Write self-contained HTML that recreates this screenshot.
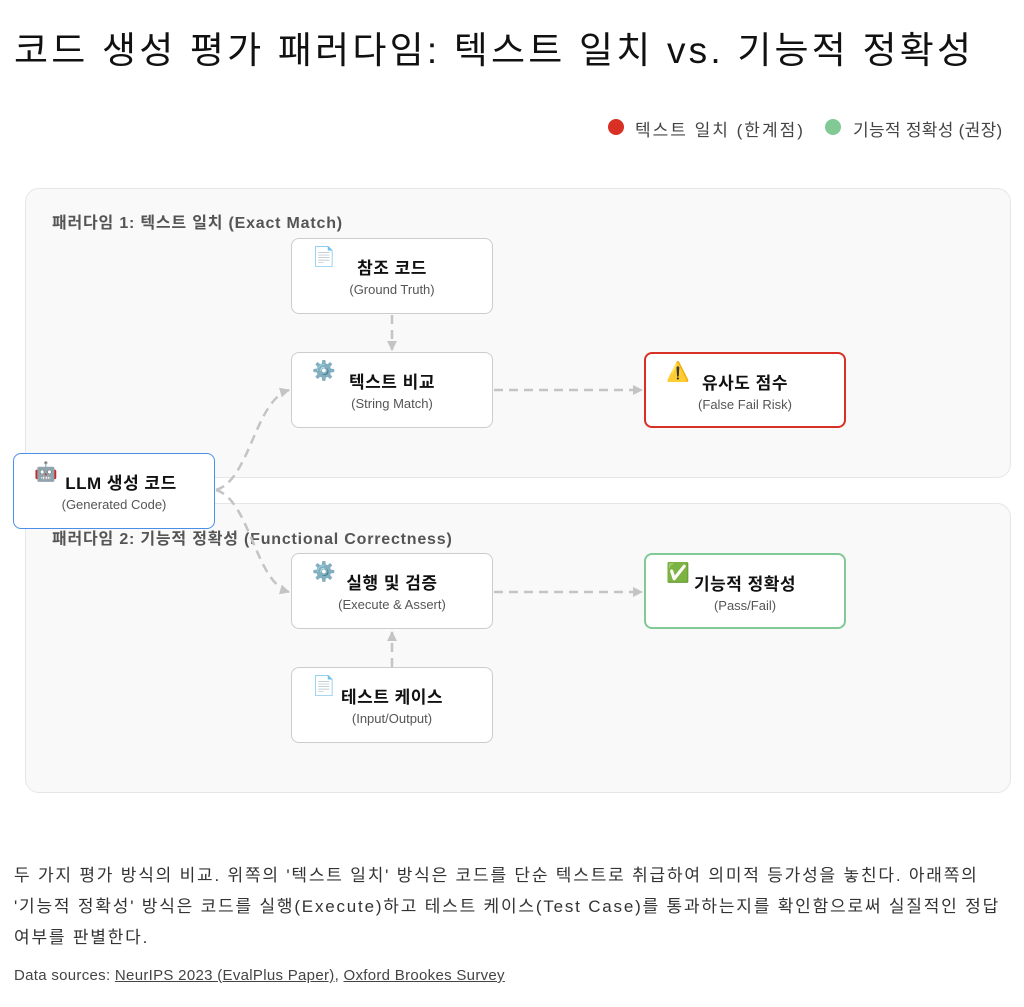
<!DOCTYPE html>
<html><head><meta charset="utf-8"><style>
*{margin:0;padding:0;box-sizing:border-box}
body{width:1024px;height:1007px;background:#fff;position:relative;overflow:hidden;font-family:"Liberation Sans","Noto Sans CJK KR",sans-serif;color:#222}
.abs{position:absolute}
.panel{position:absolute;left:25px;width:986px;height:290px;background:#f9f9f9;border:1px solid #e6e6e6;border-radius:14px}
.plabel{position:absolute;left:52px;font-size:16px;font-weight:bold;color:#555;letter-spacing:0.8px;white-space:nowrap}
.node{position:absolute;width:202px;height:76px;background:#fff;border:1.5px solid #ccc;border-radius:8px;text-align:center}
.node .t{position:absolute;left:0;right:0;top:15px;font-size:17px;font-weight:bold;color:#111;letter-spacing:0.5px}
.node .s{position:absolute;left:0;right:0;top:43px;font-size:13px;color:#555}
.node .i{position:absolute;left:20px;top:6px;font-size:19px}
</style></head><body>
<div class="abs" style="left:14px;top:20px;font-size:37px;color:#111;white-space:nowrap;letter-spacing:3.2px">코드 생성 평가 패러다임: 텍스트 일치 vs. 기능적 정확성</div>
<div class="abs" style="left:608px;top:119px;width:16px;height:16px;border-radius:50%;background:#d93025"></div>
<div class="abs" style="left:635px;top:116px;font-size:17px;color:#444;letter-spacing:2px;white-space:nowrap">텍스트 일치 (한계점)</div>
<div class="abs" style="left:825px;top:119px;width:16px;height:16px;border-radius:50%;background:#81c995"></div>
<div class="abs" style="left:853px;top:116px;font-size:17px;color:#444;letter-spacing:0.3px;white-space:nowrap">기능적 정확성 (권장)</div>

<div class="panel" style="top:188px"></div>
<div class="panel" style="top:503px"></div>
<div class="plabel" style="top:209px">패러다임 1: 텍스트 일치 (Exact Match)</div>
<div class="plabel" style="top:525px">패러다임 2: 기능적 정확성 (Functional Correctness)</div>

<svg class="abs" style="left:0;top:0" width="1024" height="1007">
<defs><marker id="a" markerWidth="10" markerHeight="10" refX="9" refY="5" orient="auto" markerUnits="userSpaceOnUse"><path d="M0,0L10,5L0,10z" fill="#c4c4c4"/></marker></defs>
<g stroke="#c4c4c4" stroke-width="2.5" stroke-dasharray="9,6" fill="none">
<path d="M392,315 V350" marker-end="url(#a)"/>
<path d="M494,390 H642" marker-end="url(#a)"/>
<path d="M392,667 V632" marker-end="url(#a)"/>
<path d="M494,592 H642" marker-end="url(#a)"/>
<path d="M216,490 C250,480 255,400 289,390" marker-end="url(#a)"/>
<path d="M216,490 C250,500 255,582 289,592" marker-end="url(#a)"/>
</g></svg>

<div class="node" style="left:291px;top:238px"><span class="i">📄</span><div class="t">참조 코드</div><div class="s">(Ground Truth)</div></div>
<div class="node" style="left:291px;top:352px"><span class="i">⚙️</span><div class="t">텍스트 비교</div><div class="s">(String Match)</div></div>
<div class="node" style="left:644px;top:352px;border:2px solid #d93025"><span class="i">⚠️</span><div class="t">유사도 점수</div><div class="s">(False Fail Risk)</div></div>
<div class="node" style="left:13px;top:453px;border:1.5px solid #4a8fe7;height:76px"><span class="i" style="left:20px;top:6px">🤖</span><div class="t" style="left:14px">LLM 생성 코드</div><div class="s">(Generated Code)</div></div>
<div class="node" style="left:291px;top:553px"><span class="i">⚙️</span><div class="t">실행 및 검증</div><div class="s">(Execute &amp; Assert)</div></div>
<div class="node" style="left:644px;top:553px;border:2px solid #81c995"><span class="i">✅</span><div class="t">기능적 정확성</div><div class="s">(Pass/Fail)</div></div>
<div class="node" style="left:291px;top:667px"><span class="i">📄</span><div class="t">테스트 케이스</div><div class="s">(Input/Output)</div></div>

<div class="abs" style="left:14px;top:860px;font-size:17px;line-height:31px;color:#333;white-space:nowrap;letter-spacing:1.8px">두 가지 평가 방식의 비교. 위쪽의 '텍스트 일치' 방식은 코드를 단순 텍스트로 취급하여 의미적 등가성을 놓친다. 아래쪽의<br>'기능적 정확성' 방식은 코드를 실행(Execute)하고 테스트 케이스(Test Case)를 통과하는지를 확인함으로써 실질적인 정답<br>여부를 판별한다.</div>
<div class="abs" style="left:14px;top:967px;font-size:15px;color:#444;white-space:nowrap;letter-spacing:0.3px">Data sources: <u>NeurIPS 2023 (EvalPlus Paper)</u>, <u>Oxford Brookes Survey</u></div>
</body></html>
